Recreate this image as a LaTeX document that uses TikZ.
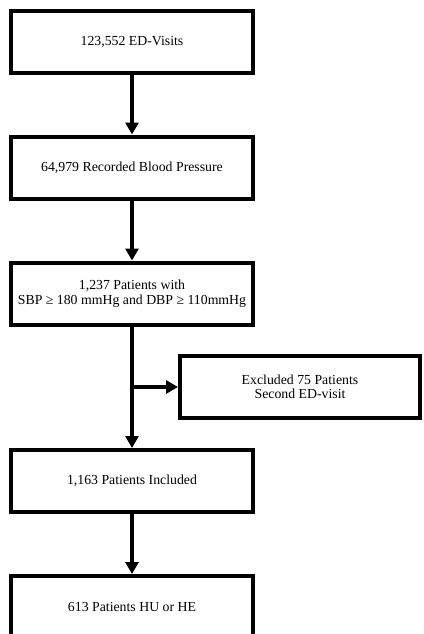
\documentclass[tikz,border=0pt]{standalone}
\usepackage{fontspec}
\setmainfont{Liberation Serif}
\usetikzlibrary{arrows.meta}

\tikzset{
  stepbox/.style={draw=black, line width=4pt, fill=white, align=center,
    minimum width=242pt, minimum height=62pt, inner sep=2pt,
    font=\fontsize{13.8}{14.5}\selectfont},
  sidebox/.style={stepbox, minimum width=240pt},
  flow/.style={line width=4pt, -{Triangle[length=12pt,width=13pt]}}
}

\begin{document}
\begin{tikzpicture}[x=1pt, y=-1pt]
  \fill[white] (0,0) rectangle (423,634);
  \useasboundingbox (0,0) rectangle (423,634);
  \clip (0,0) rectangle (423,634);

  \node[stepbox] (visits)   at (132,42)    {123,552 ED-Visits};
  \node[stepbox] (bp)       at (132,167.5) {64,979 Recorded Blood Pressure};
  \node[stepbox] (severe)   at (132,293.5) {1,237 Patients with\\SBP ≥ 180 mmHg and DBP ≥ 110mmHg};
  \node[sidebox] (excluded) at (300,387)   {Excluded 75 Patients\\Second ED-visit};
  \node[stepbox] (included) at (132,481)   {1,163 Patients Included};
  \node[stepbox] (huhe)     at (132,607)   {613 Patients HU or HE};

  \coordinate (branch) at (severe.south |- excluded.west);

  \draw[flow] (visits) -- (bp);
  \draw[flow] (bp) -- (severe);
  \draw[flow] (severe) -- (included);
  \draw[flow] (branch) -- (excluded.west);
  \draw[flow] (included) -- (huhe);
\end{tikzpicture}
\end{document}
